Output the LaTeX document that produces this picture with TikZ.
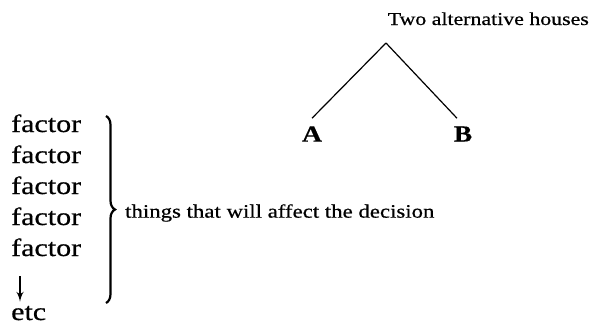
\documentclass[tikz,border=0pt]{standalone}
\usepackage{fontspec}
\setmainfont{Liberation Serif}[FakeStretch=1.2, FakeBold=0.6]
\usetikzlibrary{positioning, arrows, decorations.pathreplacing}

\begin{document}
\begin{tikzpicture}[>=latex', x=1pt, y=-1pt,
    node distance=31pt, inner sep=0pt]

    \tikzset{
      factor/.style = {font=\fontsize{25}{25}\selectfont, anchor=base west},
      label/.style  = {font=\fontsize{19}{19}\selectfont},
      house/.style  = {font=\fontsize{23}{23}\selectfont\bfseries, inner sep=8pt},
    }

    \useasboundingbox (0,0) rectangle (592,325);

    \node[factor] (f1) at (11,132) {factor};
    \node[factor, below of=f1] (f2) {factor};
    \node[factor, below of=f2] (f3) {factor};
    \node[factor, below of=f3] (f4) {factor};
    \node[factor, below of=f4] (f5) {factor};
    \node[factor, anchor=base west] (etc) at (11,320) {etc};

    \coordinate (btop) at (106,116);
    \coordinate (bbot) at (106,303);
    \node[label, anchor=west] (things) at (125,213) {things that will affect the decision};

    \node[label, font=\fontsize{18.2}{18.2}\selectfont, anchor=base east]
      (title) at (589,25) {Two alternative houses};
    \coordinate (apex) at (386,43);
    \node[house] (A) at (312,134) {A};
    \node[house] (B) at (463,134) {B};

    % die Baumkanten
    \path[line width=1.2pt]
      (apex) edge[] (A.north)
      (apex) edge[] ([xshift=-6pt]B.north);

    \draw[->, line width=2.4pt, shorten <=20pt, shorten >=4pt]
      ([xshift=9pt]f5.south west) -- ([xshift=9pt]etc.north west);

    \draw[line width=2.2pt, decorate, decoration={brace, amplitude=9pt}]
      (btop) -- (bbot);

  \end{tikzpicture}
\end{document}
